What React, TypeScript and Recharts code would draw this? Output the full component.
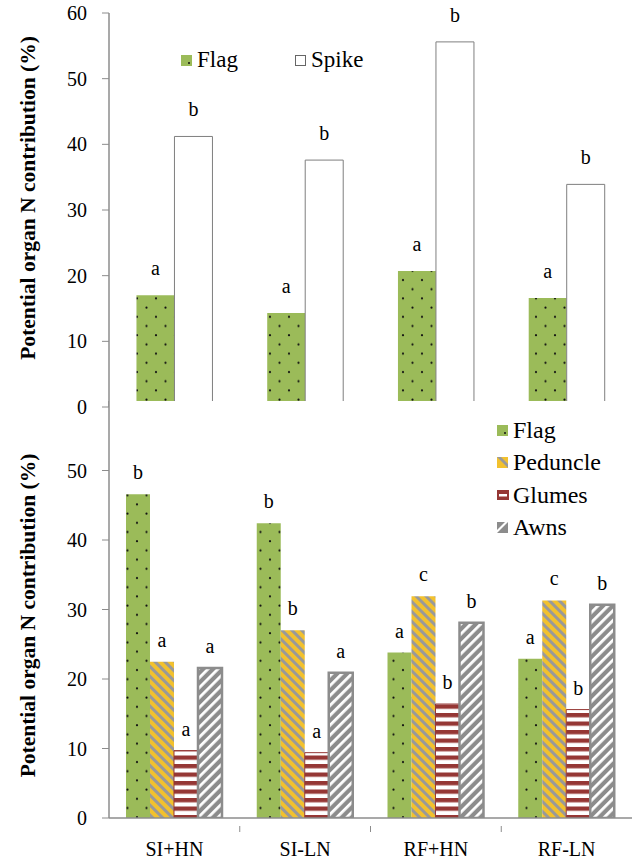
import { BarChart, Bar, XAxis, YAxis, Legend, LabelList, CartesianGrid } from 'recharts';

const categories = ['SI+HN', 'SI-LN', 'RF+HN', 'RF-LN'];

// top panel: flag leaf vs spike
const topFlag = [17.0, 14.3, 20.7, 16.6];
const topSpike = [41.2, 37.6, 55.6, 33.9];
const topFlagSig = ['a', 'a', 'a', 'a'];
const topSpikeSig = ['b', 'b', 'b', 'b'];
const topTicks = [0, 10, 20, 30, 40, 50, 60];

// bottom panel: flag vs spike organs
const flag = [46.6, 42.4, 23.8, 22.9];
const peduncle = [22.5, 27.0, 31.9, 31.3];
const glumes = [9.7, 9.4, 16.4, 15.6];
const awns = [21.6, 20.9, 28.1, 30.7];
const flagSig = ['b', 'b', 'a', 'a'];
const peduncleSig = ['a', 'b', 'c', 'c'];
const glumesSig = ['a', 'a', 'b', 'b'];
const awnsSig = ['a', 'a', 'b', 'b'];
const bottomTicks = [0, 10, 20, 30, 40, 50];

const yTitle = 'Potential organ N contribution (%)';

const FONT = '"Liberation Serif", "Times New Roman", serif';
const GRAY = '#8c8c8c';
const GREEN = '#9bbb59';
const YELLOW = '#f2c12e';
const RED = '#953735';

const topData = categories.map((name, i) => ({
  name,
  flag: topFlag[i],
  spike: topSpike[i],
  flagSig: topFlagSig[i],
  spikeSig: topSpikeSig[i],
}));

const bottomData = categories.map((name, i) => ({
  name,
  flag: flag[i],
  peduncle: peduncle[i],
  glumes: glumes[i],
  awns: awns[i],
  flagSig: flagSig[i],
  peduncleSig: peduncleSig[i],
  glumesSig: glumesSig[i],
  awnsSig: awnsSig[i],
}));

const sigStyle = { fontSize: 20, fontFamily: FONT, fill: '#000' };
const tickStyle = { fontSize: 20, fontFamily: FONT, fill: '#000' };

function patternDefs(id: string) {
  return (
    <defs>
      <pattern id={`${id}-dots`} width={19} height={18.4} patternUnits="userSpaceOnUse">
        <rect width={19} height={18.4} fill={GREEN} />
        <circle cx={4} cy={4} r={1.1} fill="#111" />
        <circle cx={13.5} cy={13.2} r={1.1} fill="#111" />
      </pattern>
      <pattern id={`${id}-ped`} width={7} height={7} patternUnits="userSpaceOnUse" patternTransform="rotate(-45)">
        <rect width={7} height={7} fill={YELLOW} />
        <rect width={3} height={7} fill="#999" />
      </pattern>
      <pattern id={`${id}-glu`} width={10} height={8.5} patternUnits="userSpaceOnUse">
        <rect width={10} height={8.5} fill="#fff" />
        <rect width={10} height={4.3} fill={RED} />
      </pattern>
      <pattern id={`${id}-awn`} width={7} height={7} patternUnits="userSpaceOnUse" patternTransform="rotate(45)">
        <rect width={7} height={7} fill={GRAY} />
        <rect width={2.8} height={7} fill="#fff" />
      </pattern>
    </defs>
  );
}

function AxisTitle(props: any) {
  const vb = props.viewBox || { y: 0, height: 0 };
  const cy = vb.y + vb.height / 2 + (props.shift || 0);
  const cx = 35;
  return (
    <text
      x={cx}
      y={cy}
      transform={`rotate(-90, ${cx}, ${cy})`}
      textAnchor="middle"
      fontFamily={FONT}
      fontWeight="bold"
      fontSize={21.5}
      fill="#000"
    >
      {yTitle}
    </text>
  );
}

function Swatch({ kind }: { kind: string }) {
  let el;
  if (kind === 'flag') {
    el = (
      <>
        <rect width={11} height={11} fill={GREEN} />
        <circle cx={8} cy={8} r={1} fill="#111" />
      </>
    );
  } else if (kind === 'spike') {
    el = <rect x={0.5} y={0.5} width={10} height={10} fill="#fff" stroke="#666" />;
  } else if (kind === 'ped') {
    el = (
      <>
        <rect width={11} height={11} fill={YELLOW} />
        <polygon points="0,0 4,0 11,7 11,11" fill="#999" />
      </>
    );
  } else if (kind === 'glu') {
    el = (
      <>
        <rect width={12} height={10} fill={RED} />
        <rect x={2} y={4} width={8} height={2.5} fill="#fff" />
      </>
    );
  } else {
    el = (
      <>
        <rect width={11} height={11} fill={GRAY} />
        <polygon points="0,11 0,8 8,0 11,0" fill="#fff" />
      </>
    );
  }
  return (
    <svg width={12} height={11} style={{ marginRight: 4, flex: 'none' }}>
      {el}
    </svg>
  );
}

const topLegend = [
  { kind: 'flag', label: 'Flag', width: 114 },
  { kind: 'spike', label: 'Spike', width: 100 },
];

const bottomLegend = [
  { kind: 'flag', label: 'Flag' },
  { kind: 'ped', label: 'Peduncle' },
  { kind: 'glu', label: 'Glumes' },
  { kind: 'awn', label: 'Awns' },
];

function TopLegend() {
  return (
    <div style={{ display: 'flex', fontFamily: FONT, fontSize: 23, color: '#000' }}>
      {topLegend.map((it) => (
        <div key={it.label} style={{ display: 'flex', alignItems: 'center', width: it.width, height: 26 }}>
          <Swatch kind={it.kind} />
          <span>{it.label}</span>
        </div>
      ))}
    </div>
  );
}

function BottomLegend() {
  return (
    <div style={{ fontFamily: FONT, fontSize: 24, color: '#000' }}>
      {bottomLegend.map((it) => (
        <div key={it.label} style={{ display: 'flex', alignItems: 'center', height: 32.5 }}>
          <Swatch kind={it.kind} />
          <span>{it.label}</span>
        </div>
      ))}
    </div>
  );
}

function CategoryTick(props: any) {
  const { x, y, payload, index } = props;
  const band = 523 / 4;
  return (
    <g>
      {index > 0 && <line x1={x - band / 2} x2={x - band / 2} y1={y} y2={y + 6} stroke={GRAY} />}
      <text x={x} y={y + 30} textAnchor="middle" fontFamily={FONT} fontSize={20} fill="#000">
        {payload.value}
      </text>
    </g>
  );
}

export default function App() {
  return (
    <div style={{ position: 'absolute', left: 0, top: 0, width: 640, height: 863, background: '#fff' }}>
      <div style={{ position: 'absolute', left: 0, top: 0 }}>
        <BarChart width={640} height={420} data={topData} margin={{ top: 13, right: 8, bottom: 13, left: 0 }} barCategoryGap="21%" barGap={0}>
          {patternDefs('t')}
          <XAxis dataKey="name" tick={false} tickLine={false} height={0} axisLine={{ stroke: '#000' }} />
          <XAxis xAxisId="top" orientation="top" dataKey="name" tick={false} tickLine={false} height={0} axisLine={{ stroke: '#000', strokeWidth: 1.3 }} />
          <YAxis
            domain={[0, 60]}
            ticks={topTicks}
            width={109}
            tickSize={7}
            tickMargin={15}
            interval={0}
            axisLine={{ stroke: GRAY, strokeWidth: 1.5 }}
            tickLine={{ stroke: GRAY }}
            tick={tickStyle}
            label={<AxisTitle shift={-12} />}
          />
          <YAxis yAxisId="right" orientation="right" width={0} tick={false} tickLine={false} axisLine={{ stroke: '#000', strokeWidth: 1.3 }} />
          <Legend layout="horizontal" verticalAlign="middle" align="center" content={() => <TopLegend />} wrapperStyle={{ left: 181, top: 47, width: 260, height: 28 }} />
          <Bar dataKey="flag" name="Flag" fill="url(#t-dots)" isAnimationActive={false}>
            <LabelList dataKey="flagSig" position="top" offset={20} style={sigStyle} />
          </Bar>
          <Bar dataKey="spike" name="Spike" fill="#fff" stroke="#7f7f7f" strokeWidth={1} isAnimationActive={false}>
            <LabelList dataKey="spikeSig" position="top" offset={20} style={sigStyle} />
          </Bar>
        </BarChart>
      </div>
      <div style={{ position: 'absolute', left: 0, top: 390 }}>
        <BarChart width={640} height={472} data={bottomData} margin={{ top: 11, right: 8, bottom: 4, left: 0 }} barCategoryGap="13%" barGap={0}>
          {patternDefs('b')}
          <CartesianGrid horizontal={false} vertical={false} fill="#fff" />
          <XAxis dataKey="name" height={40} tickLine={false} tick={<CategoryTick />} interval={0} axisLine={{ stroke: GRAY, strokeWidth: 1.5 }} />
          <XAxis xAxisId="top" orientation="top" dataKey="name" tick={false} tickLine={false} height={0} axisLine={{ stroke: '#000', strokeWidth: 1.3 }} />
          <YAxis
            domain={[0, 60]}
            allowDataOverflow
            ticks={bottomTicks}
            width={109}
            tickSize={7}
            tickMargin={15}
            interval={0}
            axisLine={{ stroke: GRAY, strokeWidth: 1.5 }}
            tickLine={{ stroke: GRAY }}
            tick={tickStyle}
            label={<AxisTitle shift={6} />}
          />
          <YAxis yAxisId="right" orientation="right" width={0} tick={false} tickLine={false} axisLine={{ stroke: '#000', strokeWidth: 1.3 }} />
          <Legend layout="horizontal" verticalAlign="middle" align="center" content={() => <BottomLegend />} wrapperStyle={{ left: 497, top: 24, width: 135, height: 130 }} />
          <Bar dataKey="flag" name="Flag" fill="url(#b-dots)" isAnimationActive={false}>
            <LabelList dataKey="flagSig" position="top" offset={15} style={sigStyle} />
          </Bar>
          <Bar dataKey="peduncle" name="Peduncle" fill="url(#b-ped)" isAnimationActive={false}>
            <LabelList dataKey="peduncleSig" position="top" offset={15} style={sigStyle} />
          </Bar>
          <Bar dataKey="glumes" name="Glumes" fill="url(#b-glu)" stroke={RED} strokeWidth={1} isAnimationActive={false}>
            <LabelList dataKey="glumesSig" position="top" offset={15} style={sigStyle} />
          </Bar>
          <Bar dataKey="awns" name="Awns" fill="url(#b-awn)" stroke={GRAY} strokeWidth={2.5} isAnimationActive={false}>
            <LabelList dataKey="awnsSig" position="top" offset={15} style={sigStyle} />
          </Bar>
        </BarChart>
      </div>
    </div>
  );
}
